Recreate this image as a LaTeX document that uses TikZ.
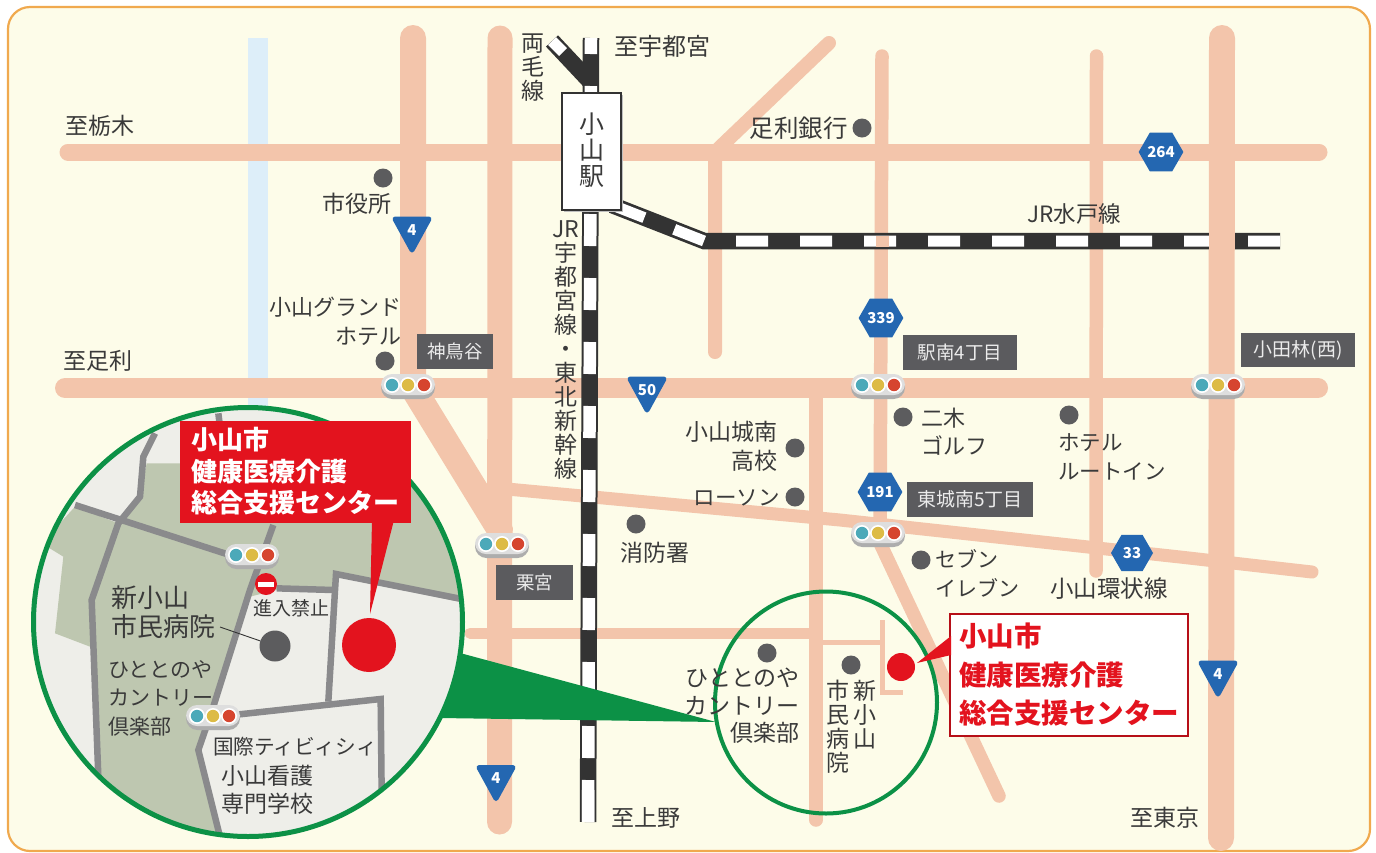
\documentclass[tikz,border=0pt]{standalone}
\usepackage{fontspec}
\setmainfont{Noto Sans CJK JP}
\usetikzlibrary{shapes.geometric}
\definecolor{cream}{HTML}{FDFCE9}
\definecolor{frameor}{HTML}{F0A94E}
\definecolor{roadc}{HTML}{F3C5AB}
\definecolor{riverc}{HTML}{DDEEF9}
\definecolor{railk}{HTML}{333333}
\definecolor{txt}{HTML}{3A3A3A}
\definecolor{badgec}{HTML}{5B5B5E}
\definecolor{shieldc}{HTML}{2467B1}
\definecolor{ringc}{HTML}{0C9146}
\definecolor{redc}{HTML}{E3131E}
\definecolor{insetbg}{HTML}{EEEEE9}
\definecolor{insetgr}{HTML}{BEC7B0}
\definecolor{insetrd}{HTML}{8A8A8C}
\definecolor{dotc}{HTML}{5C5C5E}
\tikzset{
 road/.style={draw=roadc,line cap=round,line join=round},
 railout/.style={draw=railk,line width=16.5pt},
 railin/.style={draw=white,line width=11pt,dash pattern=on 32pt off 32pt},
 lab/.style={inner sep=0pt,text=txt,font=\fontsize{23}{28}\selectfont},
 vlab/.style={lab,align=center,font=\fontsize{23}{24}\selectfont},
 badge/.style={fill=badgec,text=white!92!black,inner sep=0pt,font=\fontsize{18.5}{20}\selectfont},
 hexs/.style={regular polygon,regular polygon sides=6,minimum size=42pt,inner sep=0pt,fill=shieldc,text=white,font=\bfseries\fontsize{15}{16}\selectfont},
 tris/.style={fill=shieldc,draw=shieldc,line width=5pt,line join=round},
 trilab/.style={text=white,inner sep=0pt,font=\bfseries\fontsize{15}{16}\selectfont},
 mapdot/.style={circle,fill=dotc,minimum size=19pt,inner sep=0pt},
 insetroad/.style={draw=insetrd,line width=6.5pt,line join=miter},
 redtxt/.style={inner sep=0pt,text=redc,font=\bfseries\fontsize{27.5}{38.5}\selectfont,align=left},
 whtxt/.style={inner sep=0pt,text=white,font=\bfseries\fontsize{26}{31.5}\selectfont,align=left},
}
\newcommand{\sigl}[2]{%
 \fill[black!32,rounded corners=11.5pt] (#1-27,#2-10) rectangle (#1+27,#2+13);
 \fill[black!13,rounded corners=11pt] (#1-27,#2-12) rectangle (#1+27,#2+9);
 \foreach \dx/\cc in {-16/4CA9B9,0/DDBB45,16/D6452F}{
  \definecolor{tmpc}{HTML}{\cc}
  \fill[white] (#1+\dx,#2-1) circle (8);
  \fill[tmpc] (#1+\dx,#2-1) circle (6.2);}
}
\newcommand{\trisign}[4]{%
 \fill[tris] (#2-17,#3-14) -- (#2+17,#3-14) -- (#2,#3+17) -- cycle;
 \node[trilab] (#1) at (#2,#3-3) {#4};
}
\begin{document}
\begin{tikzpicture}[x=1pt,y=-1pt]
\useasboundingbox (0,0) rectangle (1376,852);
\fill[white] (0,0) rectangle (1376,852);
\draw[draw=frameor,fill=cream,line width=2.2pt,rounded corners=22pt] (8,7) rectangle (1370,851);
% river
\fill[riverc] (248,38) rectangle (268,420);
% roads
\draw[road,line width=17pt] (68,152) -- (1319,152);
\draw[road,line width=20pt] (65,388) -- (1318,388);
\draw[road,line width=13pt] (507,489) -- (840,520) -- (1180,557) -- (1312,572);
\draw[road,line width=26pt] (413,38) -- (413,388) -- (500,530);
\draw[road,line width=25pt] (500,38) -- (499.5,822);
\draw[road,line width=14pt] (829,43) -- (715,152) -- (715,352);
\draw[road,line width=13.5pt] (882,56) -- (880,543) -- (999,796);
\draw[road,line width=13.5pt] (1096.5,56) -- (1096,571);
\draw[road,line width=26pt] (1222,38) -- (1221,838);
\draw[road,line width=13.5pt] (816,388) -- (816,820);
\draw[road,line width=11pt] (470,633) -- (816,633);
\draw[road,line width=5pt,line cap=butt] (882,620) -- (882,692);
\draw[road,line width=5pt,line cap=butt] (820,642) -- (882,642);
\draw[road,line width=5pt,line cap=butt] (880,692) -- (903,692);
% rails
\draw[railout] (552,41) -- (590.5,82);
\draw[draw=white,line width=11pt] (552,41) -- (563,52);
\draw[railout] (591,38) -- (588,822);
\draw[railin,line width=12.5pt,dash phase=16pt] (591,38) -- (588,822);
\draw[draw=white,line width=12.5pt] (588.2,780) -- (588,822);
\draw[railout,line join=miter] (1280,241) -- (704,241) -- (612,205);
\draw[railin,line join=miter] (1280,241) -- (704,241) -- (612,205);
\fill[roadc] (875.5,235.5) rectangle (888.5,246.5);
\fill[roadc] (1209,232) rectangle (1235,250);
% station
\fill[black!25] (564,95) rectangle (623,212);
\node[draw=railk,line width=1.2pt,fill=white,minimum width=59pt,minimum height=117pt,inner sep=0pt] (station) at (591.5,151.5) {};
\node[vlab,font=\fontsize{25}{26}\selectfont] (stlab) at (592,150) {小\\山\\駅};
% wedge
\fill[ringc] (460,653) -- (716,722) -- (440,718) -- cycle;
% small ring
\draw[draw=ringc,line width=4pt] (826,702.5) circle (111);
% labels
\node[lab,anchor=west] (a1) at (65,126) {至栃木};
\node[lab,anchor=west] (a2) at (63,361) {至足利};
\node[lab,anchor=west,font=\fontsize{24}{28}\selectfont] (a3) at (614,46) {至宇都宮};
\node[lab,anchor=west] (a4) at (611,818) {至上野};
\node[lab,anchor=west] (a5) at (1130,818) {至東京};
\node[vlab] (a6) at (533,68) {両\\毛\\線};
\node[vlab] (a7) at (566,350) {JR\\宇\\都\\宮\\線\\・\\東\\北\\新\\幹\\線};
\node[lab,anchor=west,font=\fontsize{22.5}{26}\selectfont] (a8) at (1027,214) {JR水戸線};
\node[lab,anchor=east,font=\fontsize{24.5}{28}\selectfont] (b1) at (848,128) {足利銀行};
\node[mapdot] (b1d) at (862,128) {};
\node[lab,anchor=center] (b2) at (357,204) {市役所};
\node[mapdot] (b2d) at (383,178) {};
\node[lab,anchor=north east,align=right,font=\fontsize{22}{28.5}\selectfont] (b3) at (402,297) {小山グランド\\ホテル};
\node[mapdot] (b3d) at (385,361) {};
\node[lab,anchor=north east,align=right,font=\fontsize{23}{29}\selectfont] (b4) at (778,421) {小山城南\\高校};
\node[mapdot] (b4d) at (795,448) {};
\node[lab,anchor=east,font=\fontsize{21.5}{26}\selectfont] (b5) at (780,498) {ローソン};
\node[mapdot] (b5d) at (795,497) {};
\node[lab] (b6) at (655,553) {消防署};
\node[mapdot] (b6d) at (636,524) {};
\node[lab,anchor=north west,align=left,font=\fontsize{22}{28}\selectfont] (b7) at (921,408) {二木\\ゴルフ};
\node[mapdot] (b7d) at (903,417) {};
\node[lab,anchor=north west,align=left,font=\fontsize{21.5}{29}\selectfont] (b8) at (1058,433) {ホテル\\ルートイン};
\node[mapdot] (b8d) at (1069,415) {};
\node[lab,anchor=north west,align=left,font=\fontsize{21}{29.5}\selectfont] (b9) at (935,549) {セブン\\イレブン};
\node[mapdot] (b9d) at (921,560) {};
\node[lab,font=\fontsize{23.5}{28}\selectfont] (b10) at (1109,589) {小山環状線};
\node[lab,anchor=north east,align=right,font=\fontsize{23}{27.5}\selectfont] (b11) at (800,668) {ひととのや\\カントリー\\倶楽部};
\node[mapdot] (b11d) at (767,653) {};
\node[mapdot] (b12d) at (851,665) {};
\node[vlab] (b12) at (865,715) {新\\小\\山};
\node[vlab] (b13) at (838,727) {市\\民\\病\\院};
% badges
\node[badge,minimum width=76pt,minimum height=35pt] (c1) at (455,351.5) {神鳥谷};
\node[badge,minimum width=77pt,minimum height=35pt] (c2) at (534.5,582) {栗宮};
\node[badge,minimum width=114pt,minimum height=35pt] (c3) at (960,352) {駅南4丁目};
\node[badge,minimum width=114pt,minimum height=34pt,font=\fontsize{19}{20}\selectfont] (c4) at (1298,350) {小田林(西)};
\node[badge,minimum width=126pt,minimum height=35pt,font=\fontsize{19}{20}\selectfont] (c5) at (970,499.5) {東城南5丁目};
% shields
\node[hexs] (s1) at (1161,152) {264};
\node[hexs] (s2) at (881,318) {339};
\node[hexs] (s3) at (880,492) {191};
\node[hexs] (s4) at (1132,553) {33};
\trisign{t1}{412}{233}{4}
\trisign{t2}{647}{393}{50}
\trisign{t3}{1218}{677}{4}
\trisign{t4}{496}{781.5}{4}
% signals
\sigl{408}{386}
\sigl{878}{386}
\sigl{1218}{386}
\sigl{502}{545}
\sigl{878}{534}
% centre marker and callout
\node[circle,fill=redc,minimum size=28pt,inner sep=0pt] (rd1) at (901,667) {};
\node[draw=redc!80!black,line width=1.5pt,fill=white,minimum width=238pt,minimum height=122pt,inner sep=0pt] (callout) at (1069,675) {};
\fill[redc] (951,636) -- (951,655) -- (917,663) -- cycle;
\node[redtxt,anchor=north west] (calltxt) at (959,623) {小山市\\健康医療介護\\総合支援センター};
% inset
\begin{scope}
\clip (248,622) circle (214.5);
\fill[insetbg] (248,622) circle (215);
\begin{scope}[shift={(0,400)},x=0.33333pt,y=-0.33333pt]
\fill[insetgr] (440,190) -- (1300,190) -- (1420,400) -- (1400,610) -- (1010,525) -- (1000,570) -- (830,570) -- (750,590) -- (640,920) -- (595,1050) -- (670,1320) -- (290,1320) -- (290,1100) -- (275,600) -- (355,370) -- (420,290) -- cycle;
\fill[insetgr] (125,430) -- (190,470) -- (165,700) -- (270,740) -- (275,600) -- (355,370) -- (225,320) -- cycle;
\draw[insetroad] (225,315) -- (680,462);
\draw[insetroad] (465,100) -- (430,170) -- (420,290) -- (355,370) -- (275,600) -- (295,1130);
\draw[insetroad] (655,40) -- (660,80);
\draw[insetroad] (820,375) -- (750,570) -- (640,920) -- (595,1050) -- (660,1310);
\draw[insetroad] (830,565) -- (1000,570);
\draw[insetroad] (1400,600) -- (1008,522) -- (985,905);
\draw[insetroad] (700,945) -- (1142,897) -- (1145,1180);
\end{scope}
\end{scope}
\draw[draw=ringc,line width=5pt] (248,622) circle (214.5);
\sigl{252}{556}
\sigl{213}{717}
\fill[redc] (180,421) rectangle (411,523);
\fill[redc] (372,520) -- (394,520) -- (370,614) -- cycle;
\node[whtxt,anchor=north west] (insettitle) at (191,427) {小山市\\健康医療介護\\総合支援センター};
\node[circle,fill=redc,minimum size=54pt,inner sep=0pt] (rd2) at (369,645) {};
\node[circle,fill=dotc,minimum size=31pt,inner sep=0pt] (gd2) at (275,646) {};
\node[circle,fill=redc,minimum size=22pt,inner sep=0pt] (noentry) at (266,584) {};
\fill[white] (258,581.5) rectangle (274,586.5);
\node[lab,anchor=center,font=\fontsize{19}{22}\selectfont] (noentrylab) at (291,608) {進入禁止};
\node[lab,anchor=north west,align=left,font=\fontsize{26}{29}\selectfont] (d1) at (111,586) {新小山\\市民病院};
\coordinate (hspA) at (220,627);
\draw[draw=railk,line width=0.9pt] (hspA) -- (gd2);
\node[lab,anchor=north west,align=left,font=\fontsize{21}{28.5}\selectfont] (d2) at (108,660) {ひととのや\\カントリー\\倶楽部};
\node[lab,anchor=center,font=\fontsize{20.7}{24}\selectfont] (d3) at (295,747) {国際ティビィシィ};
\node[lab,anchor=north,align=center] (d4) at (267,765) {小山看護\\専門学校};
\end{tikzpicture}
\end{document}
